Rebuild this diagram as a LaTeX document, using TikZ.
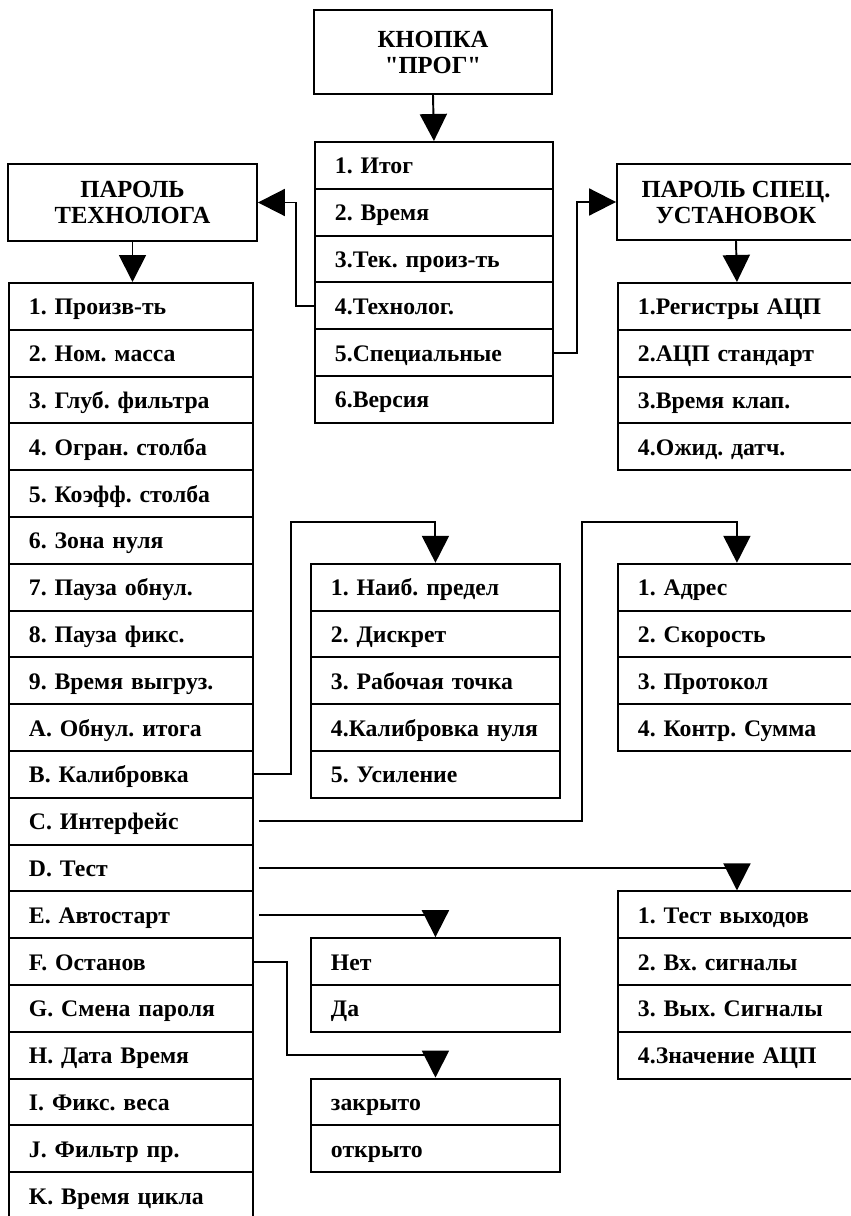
\documentclass[tikz,border=0pt]{standalone}
\usepackage{fontspec}
\setmainfont{Liberation Serif}
\usetikzlibrary{arrows.meta}
\frenchspacing

\begin{document}
\begin{tikzpicture}[x=0.02cm,y=-0.02cm,
  row/.style={draw,line width=1.1pt,inner xsep=0.4cm,inner ysep=0pt,minimum height=0.936cm,
    text width=#1,text height=0.4cm,text depth=0.056cm,align=left,anchor=north west,
    font=\bfseries\fontsize{13.5}{15}\selectfont},
  head/.style={draw,line width=1.1pt,align=center,font=\bfseries\fontsize{14}{14.8}\selectfont},
  arr/.style={line width=1.1pt,-{Triangle[length=0.54cm,width=0.54cm]}}]

\useasboundingbox (0,0) rectangle (851,1216);

\node[head,minimum width=4.76cm,minimum height=1.68cm] (prog) at (433,52) {КНОПКА\\\textquotedbl ПРОГ\textquotedbl};
\node[head,minimum width=4.98cm,minimum height=1.54cm] (tech) at (132.5,202.5) {ПАРОЛЬ\\ТЕХНОЛОГА};
\node[head,minimum width=4.76cm,minimum height=1.52cm] (spec) at (736,202) {ПАРОЛЬ СПЕЦ.\\УСТАНОВОК};

\foreach \txt [count=\i] in {1. Итог,2. Время,3.Тек. произ-ть,4.Технолог.,5.Специальные,6.Версия}
  \node[row=3.96cm] (m\i) at (314,{141+(\i-1)*46.8}) {\txt};

\foreach \txt [count=\i] in {1. Произв-ть,2. Ном. масса,3. Глуб. фильтра,4. Огран. столба,
    5. Коэфф. столба,6. Зона нуля,7. Пауза обнул.,8. Пауза фикс.,9. Время выгруз.,
    A. Обнул. итога,B. Калибровка,C. Интерфейс,D. Тест,E. Автостарт,F. Останов,
    G. Смена пароля,H. Дата Время,I. Фикс. веса,J. Фильтр пр.,K. Время цикла}
  \node[row=4.08cm] (t\i) at (8,{282+(\i-1)*46.8}) {\txt};

\foreach \txt [count=\i] in {1.Регистры АЦП,2.АЦП стандарт,3.Время клап.,4.Ожид. датч.}
  \node[row=3.96cm] (s\i) at (617,{282+(\i-1)*46.8}) {\txt};

\foreach \txt [count=\i] in {1. Наиб. предел,2. Дискрет,3. Рабочая точка,4.Калибровка нуля,5. Усиление}
  \node[row=4.18cm] (k\i) at (310,{562.8+(\i-1)*46.8}) {\txt};

\foreach \txt [count=\i] in {1. Адрес,2. Скорость,3. Протокол,4. Контр. Сумма}
  \node[row=3.96cm] (i\i) at (617,{562.8+(\i-1)*46.8}) {\txt};

\foreach \txt [count=\i] in {1. Тест выходов,2. Вх. сигналы,3. Вых. Сигналы,4.Значение АЦП}
  \node[row=3.96cm] (d\i) at (617,{890.4+(\i-1)*46.8}) {\txt};

\foreach \txt [count=\i] in {Нет,Да}
  \node[row=4.18cm] (a\i) at (310,{937.2+(\i-1)*46.8}) {\txt};

\foreach \txt [count=\i] in {закрыто,открыто}
  \node[row=4.18cm] (f\i) at (310,{1077.6+(\i-1)*46.8}) {\txt};

\draw[arr] (prog.south) -- (m1.north);
\draw[arr] (m4.west) -- ++(-18,0) |- (tech.east);
\draw[arr] (m5.east) -- ++(23,0) |- (spec.west);
\draw[arr] (tech.south) -- (tech.south |- t1.north);
\draw[arr] (spec.south) -- (s1.north);

\coordinate (kb) at (291,522);
\coordinate (ib) at (582,522);
\coordinate (fb) at (287,1055);

\draw[arr] (t11.east) -| (kb) -| (k1.north);
\draw[arr] ([xshift=0.1cm]t12.east) -| (ib) -| (i1.north);
\draw[arr] ([xshift=0.1cm]t13.east) -| (d1.north);
\draw[arr] ([xshift=0.1cm]t14.east) -| (a1.north);
\draw[arr] (t15.east) -| (fb) -| (f1.north);

\end{tikzpicture}
\end{document}
